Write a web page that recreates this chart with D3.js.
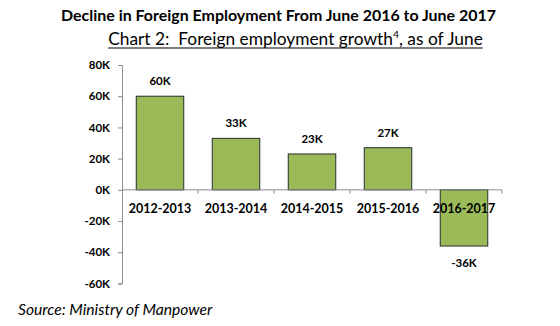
<!DOCTYPE html>
<html>
<head>
<meta charset="utf-8">
<script src="https://cdn.jsdelivr.net/npm/d3@7"></script>
<style>
  html, body { margin: 0; padding: 0; background: #fff; }
  svg { display: block; font-family: Lato, "Open Sans", sans-serif; }
</style>
</head>
<body>
<svg id="chart" width="560" height="326"></svg>
<script>
// Foreign employment growth by year (as of June), in thousands
const periods = ["2012-2013", "2013-2014", "2014-2015", "2015-2016", "2016-2017"];
const growth = [60, 33, 23, 27, -36];
const yTicks = [80, 60, 40, 20, 0, -20, -40, -60];

const svg = d3.select("#chart");
const plot = { left: 122, right: 502, top: 65, bottom: 283.5 };

const x = d3.scaleBand().domain(periods).range([plot.left, plot.right]).paddingInner(0.375).paddingOuter(0.1875);
const y = d3.scaleLinear().domain([-60, 80]).range([plot.bottom, plot.top]);
const fmtK = d => d + "K";

// Scale a text element's font so it spans the given width
function fitWidth(sel, width) {
  const size = +sel.attr("font-size");
  const w = sel.node().getBBox().width;
  sel.attr("font-size", size * width / w);
}

// Titles
const title = svg.append("text")
  .attr("x", 278.5).attr("y", 21)
  .attr("text-anchor", "middle")
  .attr("font-weight", "bold").attr("font-size", 15.5)
  .attr("fill", "#000")
  .text("Decline in Foreign Employment From June 2016 to June 2017");
fitWidth(title, 435);

const sub = svg.append("text")
  .attr("x", 295.5).attr("y", 45)
  .attr("text-anchor", "middle")
  .attr("font-size", 15.5)
  .attr("fill", "#000")
  .style("white-space", "pre");
sub.append("tspan").text("Chart 2:  Foreign employment growth");
sub.append("tspan").attr("font-size", "0.6em").attr("dy", -7).text("4");
sub.append("tspan").attr("dy", 7).text(", as of June");
fitWidth(sub, 375);

// underline the subtitle
const sb = sub.node().getBBox();
svg.append("line")
  .attr("x1", sb.x).attr("x2", sb.x + sb.width)
  .attr("y1", 48).attr("y2", 48)
  .attr("stroke", "#000").attr("stroke-width", 1.2);

// Y axis
const yAxis = svg.append("g")
  .attr("transform", `translate(${plot.left},0)`)
  .call(d3.axisLeft(y).tickValues(yTicks).tickFormat(fmtK).tickSize(4).tickPadding(8));
yAxis.select(".domain").attr("stroke", "#8c8c8c");
yAxis.selectAll(".tick line").attr("stroke", "#8c8c8c");
yAxis.selectAll(".tick text")
  .attr("font-family", "Lato, sans-serif")
  .attr("font-weight", "bold").attr("font-size", 11.5).attr("fill", "#000");

// Bars
svg.append("g").selectAll("rect")
  .data(growth)
  .join("rect")
  .attr("x", (d, i) => x(periods[i]))
  .attr("width", x.bandwidth())
  .attr("y", d => y(Math.max(0, d)))
  .attr("height", d => Math.abs(y(d) - y(0)))
  .attr("fill", "#9bbb59")
  .attr("stroke", "#2b2b2b")
  .attr("stroke-width", 1);

// Zero line with category separators
const xAxis = svg.append("g")
  .attr("transform", `translate(0,${y(0)})`);
xAxis.append("line")
  .attr("x1", plot.left).attr("x2", plot.right)
  .attr("stroke", "#8c8c8c");
const step = x.step();
xAxis.selectAll("line.sep")
  .data(d3.range(1, periods.length + 1))
  .join("line").attr("class", "sep")
  .attr("x1", i => plot.left + i * step).attr("x2", i => plot.left + i * step)
  .attr("y1", 0).attr("y2", 4)
  .attr("stroke", "#8c8c8c");

// Category labels
svg.append("g").selectAll("text")
  .data(periods)
  .join("text")
  .attr("x", d => x(d) + x.bandwidth() / 2)
  .attr("y", y(0) + 23)
  .attr("text-anchor", "middle")
  .attr("font-weight", "bold").attr("font-size", 12.5)
  .attr("fill", "#000")
  .text(d => d);

// Value labels
svg.append("g").selectAll("text")
  .data(growth)
  .join("text")
  .attr("x", (d, i) => x(periods[i]) + x.bandwidth() / 2)
  .attr("y", d => d >= 0 ? y(d) - 11 : y(d) + 21)
  .attr("text-anchor", "middle")
  .attr("font-weight", "bold").attr("font-size", 11.5)
  .attr("fill", "#000")
  .text(d => fmtK(d));

// Source note
const source = svg.append("text")
  .attr("x", 18).attr("y", 315)
  .attr("font-style", "italic").attr("font-size", 13.5)
  .attr("fill", "#000")
  .text("Source: Ministry of Manpower");
fitWidth(source, 195);
</script>
</body>
</html>
